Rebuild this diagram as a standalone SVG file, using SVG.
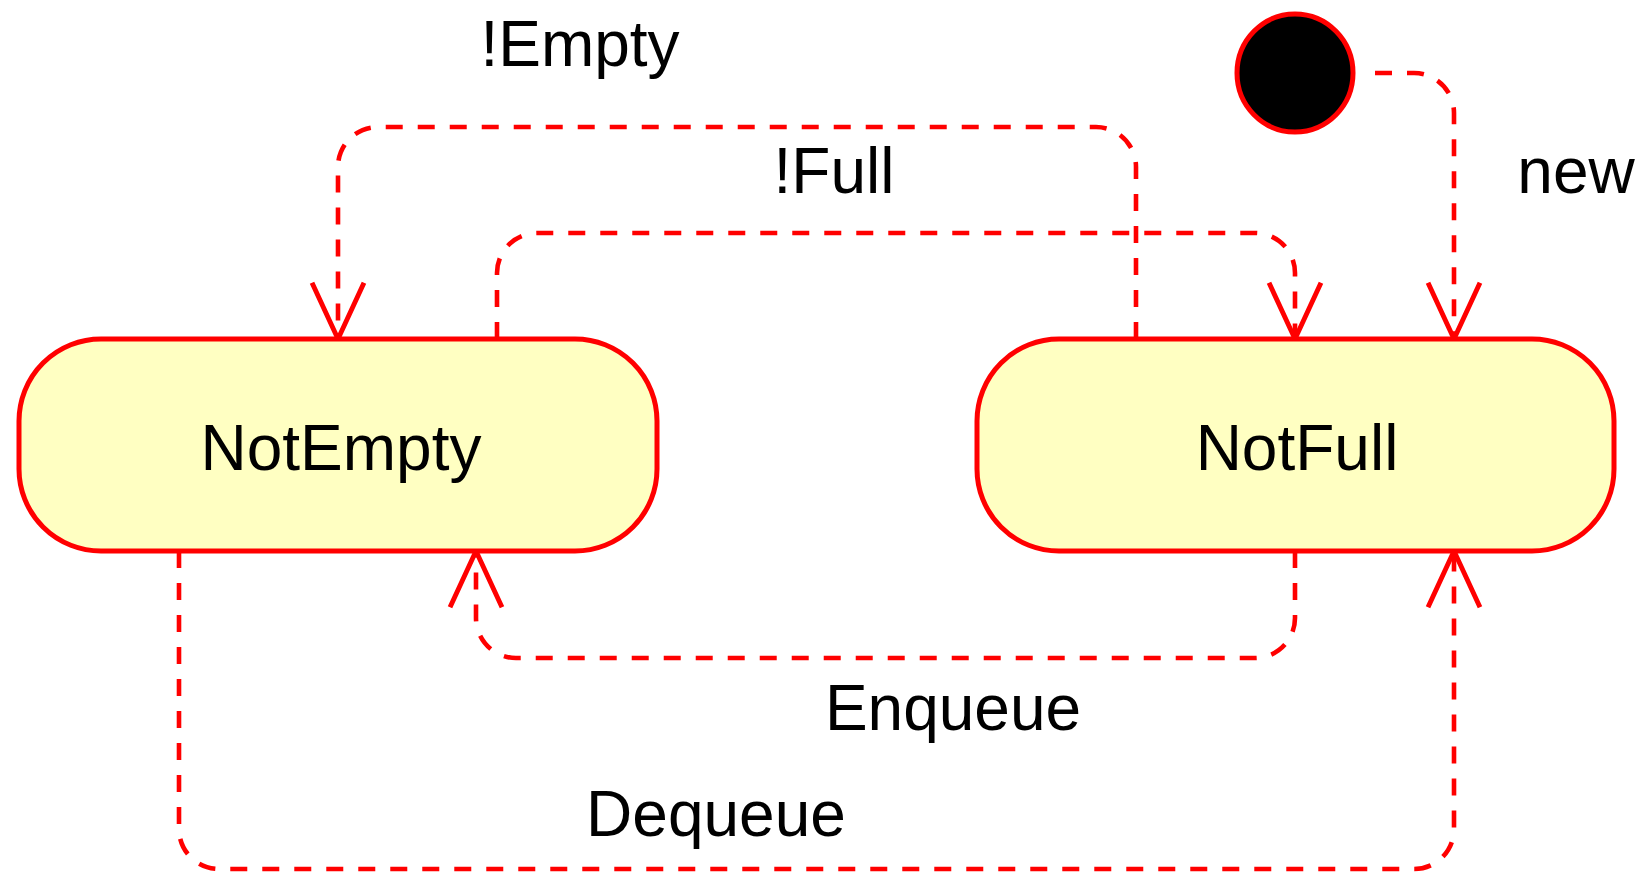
<svg xmlns="http://www.w3.org/2000/svg" width="1638" height="872" viewBox="0 0 1638 872">
  <defs>
    <style>
      .state { fill: #FFFFC2; stroke: #FF0000; stroke-width: 5; }
      .init { fill: #000000; stroke: #FF0000; stroke-width: 5; }
      .label { font-family: "Liberation Sans", Arial, Helvetica, sans-serif; font-size: 64px; fill: #000000; text-anchor: middle; }
      .edge { fill: none; stroke: #FF0000; stroke-width: 4.6; stroke-dasharray: 17 15; marker-end: url(#open-arrow); }
    </style>
    <marker id="open-arrow" markerUnits="userSpaceOnUse" markerWidth="70" markerHeight="70" viewBox="-60 -30 66 60" refX="0" refY="0" orient="auto" overflow="visible">
      <path d="M-53,-24.5 L0,0 L-53,24.5" fill="none" stroke="#FF0000" stroke-width="4.6" stroke-dasharray="none"/>
    </marker>
  </defs>

  <rect width="1638" height="872" fill="#FFFFFF"/>

  <!-- transitions -->
  <g id="connectors">
    <path id="edge-new" class="edge" d="M1375,73 H1414 A40,40 0 0 1 1454,113 V339"/>
    <path id="edge-not-empty" class="edge" d="M1136,339 V167 A40,40 0 0 0 1096,127 H378 A40,40 0 0 0 338,167 V339"/>
    <path id="edge-not-full" class="edge" d="M497,339 V273 A40,40 0 0 1 537,233 H1255 A40,40 0 0 1 1295,273 V339"/>
    <path id="edge-enqueue" class="edge" d="M1295,551 V618 A40,40 0 0 1 1255,658 H516 A40,40 0 0 1 476,618 V551"/>
    <path id="edge-dequeue" class="edge" d="M179,551 V829 A40,40 0 0 0 219,869 H1414 A40,40 0 0 0 1454,829 V551"/>
    <text class="label" x="580" y="66">!Empty</text>
    <text class="label" x="834" y="193">!Full</text>
    <text class="label" x="1576" y="193">new</text>
    <text class="label" x="953" y="730">Enqueue</text>
    <text class="label" x="716" y="836">Dequeue</text>
  </g>

  <!-- initial pseudo-state -->
  <g id="start">
    <ellipse class="init" cx="1295" cy="73" rx="58" ry="59"/>
  </g>

  <!-- states -->
  <g id="NotEmpty">
    <rect class="state" x="19" y="339" width="638" height="212" rx="82" ry="82"/>
    <text class="label" x="341" y="470">NotEmpty</text>
  </g>

  <g id="NotFull">
    <rect class="state" x="977" y="339" width="637" height="212" rx="82" ry="82"/>
    <text class="label" x="1297" y="470">NotFull</text>
  </g>
</svg>
